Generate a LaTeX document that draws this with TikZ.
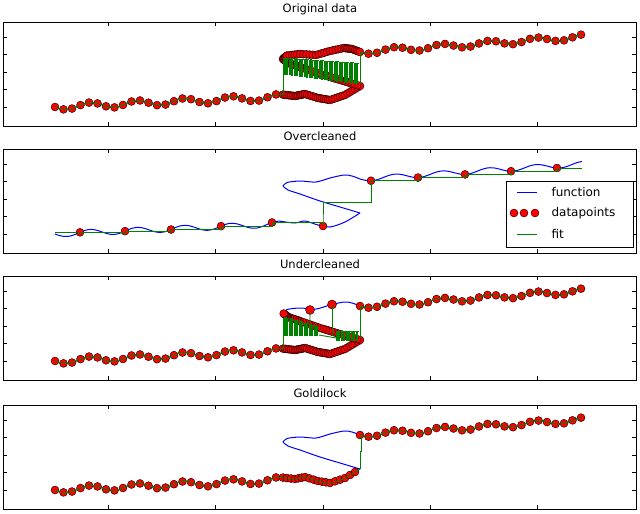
\documentclass[tikz,border=0pt]{standalone}
\usepackage{fontspec}
\setmainfont{DejaVu Sans}
\definecolor{fitg}{rgb}{0,0.5,0}
\tikzset{
  declare function={fl(\x)=85-10*(\x-55)/228+3*sin(7.6596*(\x-55));
                    fu(\x)=30-15*(\x-360)/222+2.5*sin(7.6596*(\x-360));},
  fn/.style={draw=blue,line width=1pt},
  fitl/.style={draw=fitg,line width=0.9pt},
  mk/.style={fill=red,draw=black,line width=0.4pt},
  frame/.style={draw=black,line width=0.9pt},
  ttl/.style={font=\fontsize{11.5}{13}\selectfont},
}
\newcommand{\lowT}[1]{\path[#1] plot[domain=55:283,samples=90] (\x,{fl(\x)});}
\newcommand{\upT}[1]{\path[#1] plot[domain=360:582,samples=90] (\x,{fu(\x)});}
\newcommand{\bumpP}[1]{\path[#1] plot[smooth] coordinates {(283,72.6) (295,74) (305,72) (318,76) (330,78) (345,73) (360,64)};}
\newcommand{\diagP}[1]{\path[#1] plot[smooth] coordinates {(360,64) (340,58) (320,52) (300,45) (288,41) (283,37)};}
\newcommand{\curlP}[1]{\path[#1] plot[smooth] coordinates {(283,37) (287,33.5) (300,32) (316,33) (330,29) (344,26) (352,27) (360,30)};}
\newcommand{\segmk}[2]{\foreach \a/\b/\c/\d in {#1} {\foreach \k in {0,...,#2} {\draw[mk] ({\a+(\c-\a)*\k/(#2+1)},{\b+(\d-\b)*\k/(#2+1)}) circle[radius=4pt];}}}
\newcommand{\bumpM}[1]{\segmk{283/72.6/295/74,295/74/305/72,305/72/318/76,318/76/330/78,330/78/345/73,345/73/360/64}{#1}}
\newcommand{\diagM}[1]{\segmk{360/64/340/58,340/58/320/52,320/52/300/45,300/45/288/41,288/41/283/37}{#1}}
\newcommand{\curlM}[1]{\segmk{283/37/287/33.5,287/33.5/300/32,300/32/316/33,316/33/330/29,330/29/344/26,344/26/352/27,352/27/360/30}{#1}}
\newcommand{\lowM}{\foreach \x in {55,63.5,...,283} \draw[mk] (\x,{fl(\x)}) circle[radius=4pt];}
\newcommand{\upM}{\foreach \x in {360,368.5,...,583} \draw[mk] (\x,{fu(\x)}) circle[radius=4pt];}
\newcommand{\panelframe}{%
  \draw[frame] (3,0) rectangle (636,104);
  \foreach \t in {108,215,323,430,537} {\draw[frame,line width=0.6pt] (\t,0)--(\t,4) (\t,104)--(\t,100);}
  \foreach \t in {15,32.5,50,67.5,85} {\draw[frame,line width=0.6pt] (3,\t)--(7,\t) (636,\t)--(632,\t);}
}
\newcommand{\allblue}{\lowT{fn}\bumpP{fn}\diagP{fn}\curlP{fn}\upT{fn}}
\begin{document}
\begin{tikzpicture}[x=1pt,y=-1pt]
\useasboundingbox (0,0) rectangle (640,514);
\fill[white] (0,0) rectangle (640,514);
% ---------- Panel 1
\node[ttl] (t1) at (320,9) {Original data};
\begin{scope}[shift={(0,22)}]
  \allblue
  \lowM \bumpM{5} \diagM{6} \curlM{4} \upM
  \lowT{fitl}
  \draw[fitl] (283,72.6)--(283,36);
  \foreach \i in {0,...,29} {
    \pgfmathsetmacro{\xa}{284+2.5*\i}\pgfmathsetmacro{\xb}{\xa+1.25}\pgfmathsetmacro{\xc}{\xa+2.5}
    \pgfmathsetmacro{\ta}{36+0.07*(\xa-283)}\pgfmathsetmacro{\ba}{52+0.13*(\xa-283)}
    \draw[fitl,line width=0.7pt] (\xa,\ta)--(\xa,\ba)--(\xb,\ba)--(\xb,\ta)--(\xc,\ta);
  }
  \draw[fitl] (360,62)--(360,30);
  \upT{fitl}
  \panelframe
\end{scope}
% ---------- Panel 2
\node[ttl] (t2) at (320,136) {Overcleaned};
\begin{scope}[shift={(0,149)}]
  \allblue
  \foreach \x in {80,125,171,221,272} \draw[mk] (\x,{fl(\x)}) circle[radius=4pt];
  \draw[mk] (323,77) circle[radius=4pt];
  \foreach \x in {371,418,465,511,557} \draw[mk] (\x,{fu(\x)}) circle[radius=4pt];
  \draw[fitl] (55,{fl(80)}) -- (80,{fl(80)}) -- (125,{fl(80)}) -- (125,{fl(125)}) -- (171,{fl(125)}) -- (171,{fl(171)}) -- (221,{fl(171)}) -- (221,{fl(221)}) -- (272,{fl(221)}) -- (272,{fl(272)}) -- (323,{fl(272)}) -- (323,77) -- (323,53) -- (371,53) -- (371,{fu(371)}) -- (418,{fu(371)}) -- (418,{fu(418)}) -- (465,{fu(418)}) -- (465,{fu(465)}) -- (511,{fu(465)}) -- (511,{fu(511)}) -- (557,{fu(511)}) -- (557,{fu(557)}) -- (582,{fu(557)});
  \panelframe
\end{scope}
% legend
\draw[fill=white,draw=black,line width=0.9pt] (506,181) rectangle (633,247);
\coordinate (l1) at (517,192); \coordinate (l1e) at (537,192);
\draw[fn] (l1)--(l1e);
\node[anchor=west,font=\fontsize{12}{14}\selectfont] (lt1) at (548,192) {function};
\foreach \x in {514,524,535} \draw[mk] (\x,213) circle[radius=4pt];
\node[anchor=west,font=\fontsize{12}{14}\selectfont] (lt2) at (548,213) {datapoints};
\coordinate (l3) at (517,234); \coordinate (l3e) at (537,234);
\draw[fitl] (l3)--(l3e);
\node[anchor=west,font=\fontsize{12}{14}\selectfont] (lt3) at (548,234) {fit};
% ---------- Panel 3
\node[ttl] (t3) at (320,264) {Undercleaned};
\begin{scope}[shift={(0,276)}]
  \allblue
  \lowM \bumpM{5} \diagM{6} \upM
  \draw[mk] (310,34) circle[radius=4.5pt];
  \draw[mk] (332,28.5) circle[radius=4.5pt];
  \lowT{fitl}
  \draw[fitl] (283,72.6)--(283,42);
  \foreach \i in {0,...,13} {
    \pgfmathsetmacro{\xa}{284+2.5*\i}\pgfmathsetmacro{\xb}{\xa+1.25}\pgfmathsetmacro{\xc}{\xa+2.5}
    \pgfmathsetmacro{\ta}{41+0.28*(\xa-283)}
    \draw[fitl,line width=0.7pt] (\xa,\ta)--(\xa,59)--(\xb,59)--(\xb,\ta)--(\xc,\ta);
  }
  \draw[fitl] (310,34)--(310,60) (319,59)--(336,62);
  \draw[fitl] (332,29)--(332,60);
  \foreach \i in {0,...,8} {
    \pgfmathsetmacro{\xa}{336+2.5*\i}\pgfmathsetmacro{\xb}{\xa+1.25}\pgfmathsetmacro{\xc}{\xa+2.5}
    \draw[fitl,line width=0.7pt] (\xa,55)--(\xa,64)--(\xb,64)--(\xb,55)--(\xc,55);
  }
  \draw[fitl] (360,62)--(360,29);
  \upT{fitl}
  \panelframe
\end{scope}
% ---------- Panel 4
\node[ttl] (t4) at (320,393) {Goldilock};
\begin{scope}[shift={(0,405)}]
  \allblue
  \lowM \bumpM{2} \upM
  \lowT{fitl} \bumpP{fitl}
  \draw[fitl] (360,64)--(360,46)--(361,46)--(361,30);
  \upT{fitl}
  \panelframe
\end{scope}
\end{tikzpicture}
\end{document}
